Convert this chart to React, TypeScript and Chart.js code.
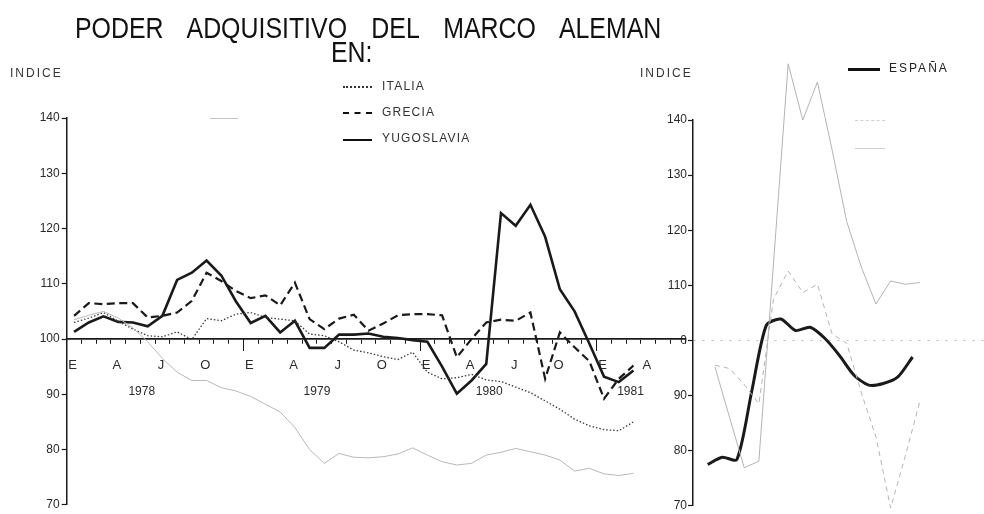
import React, { useEffect, useRef } from 'react';
import { Chart, registerables } from 'chart.js';

Chart.register(...registerables);

// ---------- LEFT PANEL DATA (monthly, Jan 1978 .. Mar 1981) ----------
const quarterLabels = ['E', 'A', 'J', 'O', 'E', 'A', 'J', 'O', 'E', 'A', 'J', 'O', 'E', 'A'];
const yearLabels = ['1978', '1979', '1980', '1981'];
const yearLabelMonths = [5.1, 17.0, 28.7, 38.3];
const leftYTicks = [70, 80, 90, 100, 110, 120, 130, 140];

const italia = [
  103.0, 103.8, 104.8, 103.2, 101.8, 100.6, 100.4, 101.3, 99.9, 103.7,
  103.3, 104.5, 104.8, 103.9, 103.6, 103.3, 100.9, 100.6, 99.5, 98.0,
  97.5, 96.8, 96.3, 97.6, 94.0, 92.8, 93.0, 93.6, 92.6, 92.3,
  91.3, 90.3, 88.8, 87.3, 85.5, 84.3, 83.6, 83.4, 85.0,
];
const grecia = [
  104.2, 106.5, 106.3, 106.5, 106.5, 103.9, 104.2, 104.8, 106.9, 112.0,
  110.5, 108.7, 107.4, 107.9, 106.1, 110.2, 103.6, 101.8, 103.7, 104.4,
  101.5, 102.8, 104.3, 104.5, 104.5, 104.3, 96.7, 100.0, 103.0, 103.5,
  103.3, 104.8, 92.8, 101.2, 98.5, 96.0, 89.2, 92.8, 95.2,
];
const yugoslavia = [
  101.3, 103.0, 104.1, 103.1, 103.0, 102.3, 104.2, 110.7, 112.0, 114.2,
  111.5, 106.8, 102.9, 104.2, 101.2, 103.3, 98.4, 98.4, 100.8, 100.8,
  101.0, 100.4, 100.2, 99.8, 99.5, 95.0, 90.1, 92.5, 95.5, 122.8,
  120.5, 124.3, 118.5, 109.0, 105.0, 99.2, 93.2, 92.2, 94.3,
];
const otroPais = [
  103.5, 104.3, 105.0, 103.8, 102.0, 99.5, 96.5, 94.0, 92.5, 92.5,
  91.2, 90.6, 89.6, 88.2, 86.8, 84.0, 80.0, 77.5, 79.3, 78.6,
  78.5, 78.7, 79.2, 80.3, 79.0, 77.8, 77.2, 77.5, 79.0, 79.5,
  80.2, 79.6, 79.0, 78.1, 76.1, 76.6, 75.6, 75.3, 75.7,
];

// ---------- RIGHT PANEL DATA ----------
const rightYTicks = [70, 80, 90, 100, 110, 120, 130, 140];
const espana = [77.5, 78.8, 78.4, 90.6, 102.7, 103.9, 101.8, 102.4, 100.4, 97.3, 93.7, 91.9, 92.2, 93.4, 97.0];
const derGris = [95.2, 86.0, 76.9, 78.1, 114.0, 150.2, 140.0, 146.9, 134.6, 121.6, 113.3, 106.6, 110.8, 110.2, 110.5];
const derGrisDiscontinua = [95.5, 94.9, 92.0, 88.5, 107.5, 112.6, 108.7, 110.2, 101.2, 99.5, 90.5, 82.5, 69.6, 79.0, 89.0];

const FONT = "'Liberation Sans', Arial, Helvetica, sans-serif";
const INK = '#1a1a1a';

const toPoints = (arr: number[], offset: number) => arr.map((v, i) => ({ x: i + offset, y: v }));

function LeftChart() {
  const ref = useRef<HTMLCanvasElement | null>(null);
  useEffect(() => {
    if (!ref.current) return;
    const chart = new Chart(ref.current, {
      type: 'line',
      data: {
        datasets: [
          { label: 'otro', data: toPoints(otroPais, 0.5), borderColor: '#b9b9b9', borderWidth: 1, pointRadius: 0, tension: 0 },
          { label: 'ITALIA', data: toPoints(italia, 0.5), borderColor: '#3a3a3a', borderWidth: 1.3, borderDash: [1.5, 2], pointRadius: 0, tension: 0 },
          { label: 'GRECIA', data: toPoints(grecia, 0.5), borderColor: INK, borderWidth: 2.2, borderDash: [8, 4.5], pointRadius: 0, tension: 0 },
          { label: 'YUGOSLAVIA', data: toPoints(yugoslavia, 0.5), borderColor: INK, borderWidth: 2.6, pointRadius: 0, tension: 0 },
        ],
      },
      options: {
        responsive: false,
        animation: false,
        events: [],
        layout: { padding: { top: 118, bottom: 6, left: 0, right: 3 } },
        plugins: { legend: { display: false }, tooltip: { enabled: false }, title: { display: false } },
        scales: {
          y: {
            type: 'linear',
            position: 'left',
            min: 70,
            max: 140,
            afterFit: (s: any) => { s.width = 66.7; },
            afterBuildTicks: (s: any) => { s.ticks = leftYTicks.map((v) => ({ value: v })); },
            ticks: { font: { family: FONT, size: 12 }, color: '#2a2a2a', padding: 2 },
            grid: { drawOnChartArea: false, tickLength: 5, color: INK, tickWidth: 1.2 },
            border: { color: INK, width: 1.5 },
          },
          x: {
            type: 'linear',
            position: { y: 100 } as any,
            min: 0,
            max: 42,
            afterBuildTicks: (s: any) => { s.ticks = Array.from({ length: 43 }, (_, i) => ({ value: i })); },
            ticks: {
              autoSkip: false,
              maxRotation: 0,
              labelOffset: 6,
              padding: 15,
              font: { family: FONT, size: 13 },
              color: '#2a2a2a',
              callback: (v: any) => {
                const n = Math.round(Number(v));
                return n % 3 === 0 && n / 3 < quarterLabels.length ? quarterLabels[n / 3] : '';
              },
            },
            grid: { drawOnChartArea: false, tickLength: 4, color: INK, tickWidth: 1 },
            border: { color: INK, width: 1.8 },
          },
          xJan: {
            type: 'linear',
            position: { y: 100 } as any,
            min: 0,
            max: 42,
            afterBuildTicks: (s: any) => { s.ticks = [12, 24, 36].map((v) => ({ value: v })); },
            ticks: { display: false },
            grid: { drawOnChartArea: false, tickLength: 12, color: INK, tickWidth: 1 },
            border: { display: false },
          },
          xYear: {
            type: 'linear',
            position: { y: 100 } as any,
            min: 0,
            max: 42,
            afterBuildTicks: (s: any) => { s.ticks = yearLabelMonths.map((v) => ({ value: v })); },
            ticks: {
              autoSkip: false,
              maxRotation: 0,
              padding: 45,
              font: { family: FONT, size: 12 },
              color: '#2a2a2a',
              callback: (_v: any, i: number) => yearLabels[i],
            },
            grid: { display: false, drawTicks: false, drawOnChartArea: false },
            border: { display: false },
          },
        },
      } as any,
    });
    return () => chart.destroy();
  }, []);
  return <canvas ref={ref} width={700} height={514} style={{ position: 'absolute', left: 0, top: 0 }} />;
}

function RightChart() {
  const ref = useRef<HTMLCanvasElement | null>(null);
  useEffect(() => {
    if (!ref.current) return;
    const chart = new Chart(ref.current, {
      type: 'line',
      data: {
        datasets: [
          { label: 'gris', data: toPoints(derGris, 1.5), borderColor: '#b4b4b4', borderWidth: 1, pointRadius: 0, tension: 0, clip: false as any },
          { label: 'gris2', data: toPoints(derGrisDiscontinua, 1.5), borderColor: '#b4b4b4', borderWidth: 1, borderDash: [5, 4], pointRadius: 0, tension: 0, clip: false as any },
          { label: 'ESPAÑA', data: toPoints(espana, 1), borderColor: INK, borderWidth: 3, pointRadius: 0, tension: 0.25 },
        ],
      },
      options: {
        responsive: false,
        animation: false,
        events: [],
        layout: { padding: { top: 120, bottom: 6, left: 0, right: 0 } },
        plugins: { legend: { display: false }, tooltip: { enabled: false } },
        scales: {
          y: {
            type: 'linear',
            position: 'left',
            min: 70,
            max: 140,
            afterFit: (s: any) => { s.width = 73; },
            afterBuildTicks: (s: any) => { s.ticks = rightYTicks.map((v) => ({ value: v })); },
            ticks: {
              font: { family: FONT, size: 12 },
              color: '#2a2a2a',
              padding: 1,
              callback: (v: any) => (Number(v) === 100 ? '0' : String(v)),
            },
            grid: {
              drawOnChartArea: true,
              tickLength: 5,
              tickColor: INK,
              tickWidth: 1.2,
              color: (c: any) => (c.tick && c.tick.value === 100 ? '#bdbdbd' : 'rgba(0,0,0,0)'),
            },
            border: { color: INK, width: 1.5, dash: [2, 7] },
          },
          x: { type: 'linear', display: false, min: 0, max: 19.88 },
        },
      } as any,
    });
    return () => chart.destroy();
  }, []);
  return <canvas ref={ref} width={364} height={514} style={{ position: 'absolute', left: 620, top: 0 }} />;
}

const abs = (left: number, top: number, extra: React.CSSProperties = {}): React.CSSProperties => ({
  position: 'absolute',
  left,
  top,
  whiteSpace: 'nowrap',
  fontFamily: FONT,
  color: INK,
  lineHeight: 1,
  ...extra,
});

function Sample({ left, top, width, style }: { left: number; top: number; width: number; style: string }) {
  return <div style={{ position: 'absolute', left, top, width, height: 0, borderTop: style }} />;
}

const titleStyle: React.CSSProperties = { fontSize: 30, transform: 'scaleX(0.83)', transformOrigin: '0 0', color: '#111' };
const smallText: React.CSSProperties = { fontSize: 12, letterSpacing: 1.2, color: '#333' };

export default function App() {
  return (
    <div style={{ position: 'fixed', left: 0, top: 0, width: 984, height: 514, background: '#fff', overflow: 'hidden' }}>
      <RightChart />
      <LeftChart />
      <div style={abs(75, 13, { ...titleStyle, wordSpacing: 21 })}>PODER ADQUISITIVO DEL MARCO ALEMAN</div>
      <div style={abs(331, 37, titleStyle)}>EN:</div>
      <div style={abs(10, 67, { ...smallText, letterSpacing: 2 })}>INDICE</div>
      <div style={abs(640, 67, { ...smallText, letterSpacing: 2 })}>INDICE</div>

      <Sample left={343} top={86} width={29} style="2px dotted #333" />
      <div style={abs(382, 80, smallText)}>ITALIA</div>
      <Sample left={343} top={112} width={29} style="2px dashed #111" />
      <div style={abs(382, 106, smallText)}>GRECIA</div>
      <Sample left={343} top={139} width={29} style="2.5px solid #111" />
      <div style={abs(382, 132, smallText)}>YUGOSLAVIA</div>
      <Sample left={210} top={118} width={28} style="1px solid #c4c4c4" />

      <Sample left={848} top={68} width={32} style="3px solid #111" />
      <div style={abs(889, 62, { ...smallText, letterSpacing: 2, color: '#222' })}>ESPAÑA</div>
      <Sample left={855} top={120} width={30} style="1px dashed #cfcfcf" />
      <Sample left={855} top={148} width={30} style="1px solid #cfcfcf" />
    </div>
  );
}
